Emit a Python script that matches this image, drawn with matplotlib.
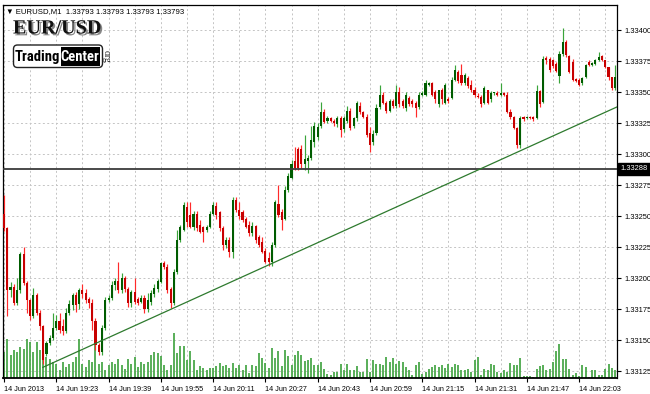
import numpy as np
import matplotlib
matplotlib.use("Agg")
import matplotlib.pyplot as plt
import matplotlib.transforms as mtransforms
import matplotlib.patheffects as pe
from matplotlib.patches import FancyBboxPatch, Rectangle
from matplotlib import font_manager

# ---------------- data (EURUSD M1, 14 Jun 2013) ----------------
opens = [1.33252,1.33240,1.33190,1.33193,1.33180,1.33190,1.33219,1.33196,1.33182,1.33169,
 1.33186,1.33172,1.33161,1.33139,1.33148,1.33152,1.33160,1.33165,1.33161,1.33157,
 1.33172,1.33178,1.33186,1.33179,1.33190,1.33188,1.33183,1.33180,1.33165,1.33146,
 1.33140,1.33160,1.33182,1.33184,1.33194,1.33198,1.33190,1.33200,1.33191,1.33180,
 1.33189,1.33183,1.33181,1.33184,1.33175,1.33181,1.33187,1.33191,1.33197,1.33212,
 1.33209,1.33191,1.33180,1.33205,1.33231,1.33239,1.33257,1.33251,1.33241,1.33252,
 1.33243,1.33241,1.33239,1.33241,1.33252,1.33258,1.33253,1.33240,1.33227,1.33231,
 1.33221,1.33263,1.33255,1.33253,1.33248,1.33243,1.33236,1.33242,1.33233,1.33229,
 1.33222,1.33216,1.33213,1.33227,1.33260,1.33253,1.33248,1.33271,1.33281,1.33294,
 1.33304,1.33304,1.33292,1.33294,1.33297,1.33310,1.33314,1.33323,1.33334,1.33327,
 1.33329,1.33327,1.33324,1.33329,1.33320,1.33327,1.33335,1.33323,1.33329,1.33339,
 1.33334,1.33330,1.33317,1.33310,1.33317,1.33338,1.33348,1.33341,1.33335,1.33343,
 1.33339,1.33350,1.33343,1.33337,1.33345,1.33343,1.33341,1.33338,1.33348,1.33348,
 1.33356,1.33357,1.33350,1.33340,1.33352,1.33341,1.33344,1.33345,1.33360,1.33366,
 1.33364,1.33357,1.33361,1.33356,1.33352,1.33347,1.33346,1.33341,1.33352,1.33344,
 1.33349,1.33349,1.33348,1.33349,1.33348,1.33334,1.33330,1.33321,1.33307,1.33330,
 1.33329,1.33330,1.33330,1.33329,1.33351,1.33342,1.33377,1.33377,1.33376,1.33373,
 1.33363,1.33381,1.33390,1.33379,1.33374,1.33360,1.33360,1.33357,1.33362,1.33374,
 1.33372,1.33373,1.33376,1.33379,1.33376,1.33370,1.33362,1.33353]

highs = [1.33267,1.33241,1.33197,1.33195,1.33200,1.33221,1.33225,1.33198,1.33183,1.33192,
 1.33188,1.33174,1.33162,1.33149,1.33154,1.33172,1.33170,1.33172,1.33167,1.33176,
 1.33182,1.33188,1.33189,1.33192,1.33195,1.33191,1.33185,1.33183,1.33168,1.33148,
 1.33162,1.33185,1.33186,1.33198,1.33200,1.33213,1.33204,1.33202,1.33193,1.33190,
 1.33200,1.33185,1.33186,1.33186,1.33188,1.33190,1.33195,1.33199,1.33213,1.33214,
 1.33211,1.33193,1.33207,1.33239,1.33243,1.33261,1.33261,1.33261,1.33254,1.33254,
 1.33247,1.33242,1.33243,1.33254,1.33261,1.33261,1.33254,1.33242,1.33233,1.33233,
 1.33265,1.33265,1.33261,1.33255,1.33249,1.33246,1.33245,1.33243,1.33235,1.33233,
 1.33224,1.33221,1.33229,1.33263,1.33275,1.33256,1.33274,1.33285,1.33295,1.33306,
 1.33306,1.33307,1.33315,1.33299,1.33323,1.33326,1.33325,1.33342,1.33336,1.33331,
 1.33330,1.33328,1.33331,1.33331,1.33331,1.33339,1.33337,1.33330,1.33343,1.33342,
 1.33335,1.33332,1.33322,1.33319,1.33340,1.33356,1.33350,1.33343,1.33344,1.33344,
 1.33356,1.33354,1.33344,1.33350,1.33347,1.33344,1.33343,1.33350,1.33351,1.33360,
 1.33358,1.33358,1.33352,1.33352,1.33353,1.33357,1.33346,1.33362,1.33372,1.33368,
 1.33373,1.33365,1.33363,1.33360,1.33354,1.33349,1.33348,1.33355,1.33352,1.33351,
 1.33350,1.33351,1.33357,1.33350,1.33350,1.33336,1.33331,1.33322,1.33331,1.33331,
 1.33331,1.33331,1.33331,1.33356,1.33352,1.33379,1.33379,1.33378,1.33377,1.33374,
 1.33383,1.33402,1.33392,1.33380,1.33377,1.33361,1.33361,1.33362,1.33373,1.33376,
 1.33374,1.33377,1.33382,1.33380,1.33376,1.33370,1.33362,1.33372]

lows = [1.33238,1.33169,1.33185,1.33178,1.33178,1.33188,1.33194,1.33172,1.33166,1.33168,
 1.33170,1.33158,1.33131,1.33137,1.33146,1.33150,1.33158,1.33156,1.33154,1.33156,
 1.33170,1.33174,1.33173,1.33175,1.33184,1.33180,1.33176,1.33158,1.33142,1.33138,
 1.33138,1.33158,1.33181,1.33182,1.33190,1.33188,1.33188,1.33189,1.33177,1.33177,
 1.33179,1.33178,1.33180,1.33172,1.33173,1.33178,1.33185,1.33189,1.33196,1.33207,
 1.33188,1.33176,1.33178,1.33203,1.33229,1.33238,1.33241,1.33240,1.33239,1.33238,
 1.33236,1.33229,1.33237,1.33240,1.33251,1.33248,1.33238,1.33223,1.33224,1.33217,
 1.33216,1.33253,1.33248,1.33245,1.33240,1.33234,1.33234,1.33228,1.33225,1.33220,
 1.33212,1.33210,1.33210,1.33225,1.33249,1.33239,1.33247,1.33269,1.33280,1.33287,
 1.33287,1.33289,1.33287,1.33285,1.33295,1.33306,1.33311,1.33321,1.33325,1.33325,
 1.33326,1.33323,1.33322,1.33314,1.33318,1.33325,1.33319,1.33321,1.33327,1.33332,
 1.33329,1.33314,1.33302,1.33307,1.33315,1.33336,1.33340,1.33333,1.33334,1.33337,
 1.33337,1.33338,1.33337,1.33335,1.33339,1.33338,1.33330,1.33336,1.33347,1.33347,
 1.33355,1.33347,1.33341,1.33338,1.33340,1.33340,1.33341,1.33344,1.33359,1.33357,
 1.33356,1.33356,1.33353,1.33350,1.33346,1.33345,1.33338,1.33340,1.33340,1.33342,
 1.33348,1.33347,1.33347,1.33347,1.33333,1.33328,1.33320,1.33305,1.33305,1.33327,
 1.33328,1.33328,1.33327,1.33328,1.33338,1.33341,1.33373,1.33366,1.33369,1.33366,
 1.33357,1.33379,1.33378,1.33365,1.33359,1.33358,1.33355,1.33356,1.33361,1.33371,
 1.33371,1.33372,1.33375,1.33375,1.33369,1.33360,1.33352,1.33352]

closes = [1.33240,1.33190,1.33193,1.33180,1.33190,1.33219,1.33196,1.33182,1.33169,1.33186,
 1.33172,1.33161,1.33134,1.33148,1.33152,1.33160,1.33165,1.33158,1.33157,1.33172,
 1.33179,1.33186,1.33178,1.33190,1.33187,1.33182,1.33180,1.33165,1.33146,1.33140,
 1.33160,1.33182,1.33184,1.33194,1.33198,1.33190,1.33200,1.33191,1.33180,1.33189,
 1.33181,1.33180,1.33184,1.33175,1.33182,1.33188,1.33192,1.33198,1.33212,1.33209,
 1.33190,1.33180,1.33205,1.33231,1.33241,1.33259,1.33245,1.33241,1.33252,1.33240,
 1.33237,1.33237,1.33241,1.33252,1.33259,1.33251,1.33240,1.33227,1.33231,1.33221,
 1.33263,1.33255,1.33250,1.33247,1.33241,1.33236,1.33242,1.33231,1.33227,1.33221,
 1.33213,1.33213,1.33227,1.33261,1.33251,1.33247,1.33271,1.33282,1.33292,1.33289,
 1.33289,1.33292,1.33296,1.33297,1.33311,1.33323,1.33322,1.33334,1.33326,1.33329,
 1.33327,1.33325,1.33329,1.33319,1.33329,1.33335,1.33321,1.33329,1.33341,1.33334,
 1.33330,1.33315,1.33307,1.33316,1.33337,1.33348,1.33341,1.33335,1.33343,1.33339,
 1.33350,1.33340,1.33339,1.33348,1.33340,1.33340,1.33337,1.33348,1.33349,1.33357,
 1.33357,1.33348,1.33344,1.33352,1.33344,1.33356,1.33343,1.33360,1.33368,1.33359,
 1.33357,1.33364,1.33355,1.33352,1.33348,1.33346,1.33340,1.33353,1.33341,1.33349,
 1.33349,1.33348,1.33349,1.33348,1.33334,1.33330,1.33321,1.33307,1.33329,1.33328,
 1.33330,1.33329,1.33328,1.33351,1.33340,1.33377,1.33376,1.33368,1.33371,1.33367,
 1.33381,1.33390,1.33380,1.33366,1.33360,1.33359,1.33356,1.33361,1.33372,1.33372,
 1.33373,1.33376,1.33378,1.33376,1.33370,1.33362,1.33353,1.33362]

volumes = [26,39,23,28,26,31,29,39,36,26,36,28,41,21,19,16,14,8,16,11,14,16,21,39,14,11,
 18,16,33,14,16,8,13,16,14,19,13,9,19,14,21,11,16,14,16,23,26,
 25,22,13,8,13,45,25,32,32,18,27,18,8,12,10,8,10,10,12,15,12,13,10,15,10,13,8,13,5,13,
 12,25,20,15,10,30,20,
 27,12,28,22,13,23,27,23,17,18,20,13,13,16,9,4,3,6,6,14,8,14,8,8,12,6,6,19,6,18,
 14,14,13,21,16,20,14,17,16,11,8,3,13,16,4,6,9,11,13,11,13,10,14,11,14,13,8,8,9,6,
 18,21,3,9,8,14,13,6,5,8,6,15,13,13,20,2,2,2,1,9,12,13,8,9,16,27,34,19,19,9,
 3,5,2,13,11,1,8,8,3,3,9,14,10,8]

time_labels = ["14 Jun 2013", "14 Jun 19:23", "14 Jun 19:39", "14 Jun 19:55",
               "14 Jun 20:11", "14 Jun 20:27", "14 Jun 20:43", "14 Jun 20:59",
               "14 Jun 21:15", "14 Jun 21:31", "14 Jun 21:47", "14 Jun 22:03"]
price_ticks = [1.33125, 1.33150, 1.33175, 1.33200, 1.33225, 1.33250, 1.33275,
               1.33300, 1.33325, 1.33350, 1.33375, 1.33400]
level_price = 1.33288
trend_x = [11.9, 187.6]
trend_y = [1.33128, 1.33338]
header_text = "\u25bc EURUSD,M1  1.33793 1.33793 1.33793 1.33793"

# ---------------- fonts ----------------
ttf = font_manager.fontManager.ttflist
installed = {f.name for f in ttf}
SANS = ['Liberation Sans', 'DejaVu Sans']
cond_family, cond_stretch = None, 'normal'
for name in ['Liberation Sans Narrow', 'Roboto Condensed', 'Open Sans Condensed', 'Arial Narrow']:
    if name in installed:
        cond_family = name
        break
if cond_family is None:
    for f in ttf:
        if f.name in ('DejaVu Sans', 'Roboto', 'Open Sans', 'Noto Sans') and 'condensed' in str(f.stretch).lower() \
                and 'semi' not in str(f.stretch).lower() and f.weight in ('bold', 700):
            cond_family, cond_stretch = f.name, f.stretch
            break
narrow_ok = cond_family is not None
LOGO_FAM = [cond_family] if narrow_ok else ['Liberation Sans']
plt.rcParams['font.family'] = SANS

# ---------------- figure ----------------
W, H = 650, 394
fig = plt.figure(figsize=(W / 100, H / 100), dpi=100, facecolor='white')
px_left, px_right, px_top, px_bottom = 3, 617, 5, 378
ax = fig.add_axes([px_left / W, 1 - px_bottom / H,
                   (px_right - px_left) / W, (px_bottom - px_top) / H])
ax.set_facecolor('white')

n = min(len(opens), len(highs), len(lows), len(closes))
o = np.array(opens[:n]); h = np.array(highs[:n])
l = np.array(lows[:n]); c = np.array(closes[:n])
x = np.arange(n)

ax.set_xlim(-0.3, 187.6)
ax.set_ylim(1.331194, 1.334202)

# grid
ax.set_xticks(np.arange(0, 16 * len(time_labels), 16))
ax.set_xticks(np.arange(8, 188, 16), minor=True)
ax.set_xticklabels(time_labels)
ax.set_yticks(price_ticks)
ax.set_yticklabels([f"{p:.5f}" for p in price_ticks])
ax.grid(True, which='both', linestyle=(0, (2, 2.5)), color='#c4c4c4', linewidth=0.7)
ax.set_axisbelow(True)

# volumes (bottom overlay, y in axes fraction = px/373)
vol = np.array(volumes[:n], dtype=float)
ax.vlines(np.arange(len(vol)), 0, vol / (px_bottom - px_top),
          transform=ax.get_xaxis_transform(), colors='#44a544', linewidth=1.25, zorder=1)

# candles
up = c >= o
wick_col = np.where(up, '#3aa53a', '#ff2a2a')
body_col = np.where(up, '#005c00', '#c80000')
ax.vlines(x, l, h, colors=wick_col, linewidth=0.85, zorder=3)
body_bot = np.minimum(o, c)
body_h = np.maximum(np.abs(c - o), 0.000012)
ax.bar(x, body_h, bottom=body_bot, width=0.64, color=body_col, linewidth=0, zorder=4)

# level line and trend line
ax.axhline(level_price, color='#3a3a3a', linewidth=1.3, zorder=5)
ax.plot(trend_x, trend_y, color='#2e7a2e', linewidth=0.9, zorder=6)

# axes styling
ax.yaxis.tick_right()
ax.tick_params(axis='y', which='major', labelsize=5.4, length=3, width=0.8, pad=2, colors='black')
ax.tick_params(axis='x', which='major', labelsize=5.2, length=3, width=0.8, pad=3, colors='black')
ax.tick_params(which='minor', length=0)
for lab in ax.get_xticklabels():
    lab.set_ha('left')
for sp in ax.spines.values():
    sp.set_color('black')
    sp.set_linewidth(0.9)
ax.spines['bottom'].set_linewidth(1.3)

trans = mtransforms.blended_transform_factory(ax.transAxes, ax.transData)
ax.text(1.0 + 3.5 / (px_right - px_left), level_price, f"{level_price:.5f}", transform=trans,
        ha='left', va='center', color='white', fontsize=5.4, zorder=10,
        bbox=dict(boxstyle='square,pad=0.35', fc='black', ec='black'))

# ---------------- overlay (header & logo) ----------------
ov = fig.add_axes([0, 0, 1, 1], zorder=20)
ov.set_xlim(0, W); ov.set_ylim(H, 0)
ov.axis('off'); ov.patch.set_alpha(0)

ov.text(6, 12, header_text, fontsize=5.6, va='center', ha='left', family=SANS, color='black')

ov.text(13, 28.5, "EUR/USD", fontsize=14.5, fontweight='bold', va='center', ha='left',
        family=['Liberation Serif', 'DejaVu Serif'], color='#111111',
        path_effects=[pe.withSimplePatchShadow(offset=(1.3, -1.3), shadow_rgbFace='#7a7a7a', alpha=0.9)])

ov.add_patch(FancyBboxPatch((13.5, 45), 89, 22.5, boxstyle='round,pad=0,rounding_size=4',
                            fc='white', ec='#222222', lw=1.0))
ov.add_patch(Rectangle((60.5, 47), 39.5, 18.5, fc='black', ec='black', lw=0))
ov.text(37, 56.5, "Trading", fontsize=10.5 if narrow_ok else 8.8, fontweight='bold',
        fontstretch=cond_stretch, family=LOGO_FAM, ha='center', va='center', color='black')
ov.text(80.3, 56.5, "Center", fontsize=10.5 if narrow_ok else 9, fontweight='bold',
        fontstretch=cond_stretch, family=LOGO_FAM, ha='center', va='center', color='white')
ov.text(106.5, 56, "org", fontsize=7, rotation=-90, family=['Liberation Serif', 'DejaVu Serif'],
        ha='center', va='center', color='#222222')

fig.savefig("out.png", dpi=100, facecolor='white')
